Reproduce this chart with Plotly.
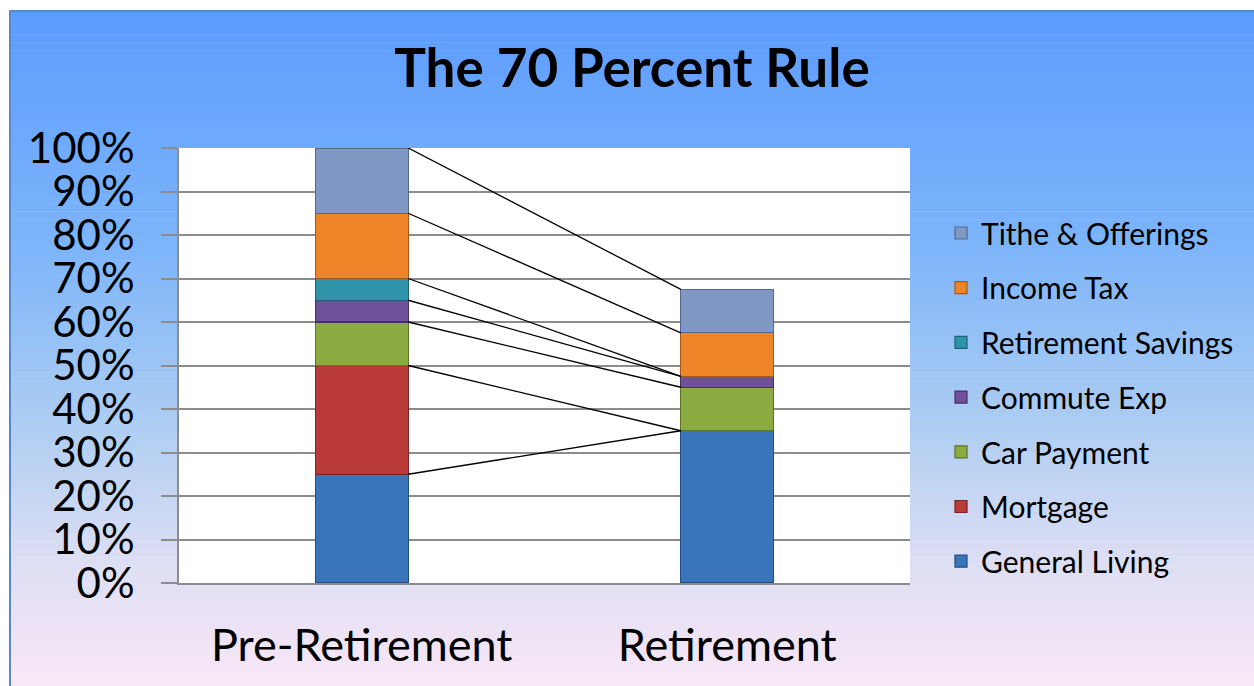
import plotly.graph_objects as go

categories = ["Pre-Retirement", "Retirement"]
series_names = ["General Living", "Mortgage", "Car Payment", "Commute Exp",
                "Retirement Savings", "Income Tax", "Tithe & Offerings"]
general_living = [25, 35]
mortgage = [25, 0]
car_payment = [10, 10]
commute_exp = [5, 2.5]
retirement_savings = [5, 0]
income_tax = [15, 10]
tithe_offerings = [15, 10]
y_ticks = [0, 10, 20, 30, 40, 50, 60, 70, 80, 90, 100]
y_tick_labels = ["0%", "10%", "20%", "30%", "40%", "50%", "60%", "70%", "80%", "90%", "100%"]

values = [general_living, mortgage, car_payment, commute_exp,
          retirement_savings, income_tax, tithe_offerings]
colors = ["#3a74ba", "#b93a36", "#8cab41", "#6f5199", "#2f93aa", "#ee8428", "#7f98c4"]
edges = ["#234d80", "#7c2220", "#5d7527", "#46306a", "#1c6374", "#a9581a", "#52688f"]

OFF = 0  # body margin removed via post_script
PW, PH = 1254, 686
W, H = PW - OFF, PH - OFF
L, R, T, B = 179 - OFF, 910 - OFF, 148 - OFF, 583 - OFF
BAR_W = 0.254

fig = go.Figure()
x_pos = list(range(len(categories)))
n_series = len(series_names)
for i, (name, vals) in enumerate(zip(series_names, values)):
    fig.add_trace(go.Bar(
        x=x_pos, y=vals, name=name, width=BAR_W,
        marker=dict(color=colors[i], line=dict(color=edges[i], width=1.2)),
        legendgroup=name, legendrank=n_series - i,
    ))

# series lines connecting segment tops
cum = [0, 0]
for vals in values:
    cum = [cum[0] + vals[0], cum[1] + vals[1]]
    fig.add_trace(go.Scatter(
        x=[x_pos[0] + BAR_W / 2, x_pos[1] - BAR_W / 2], y=cum,
        mode="lines", line=dict(color="black", width=1.3),
        showlegend=False, hoverinfo="skip"))

# helpers: reference page pixels -> paper coords
def px2fx(px):
    return (px - OFF - L) / (R - L)

def py2fy(py):
    return (B - (py - OFF)) / (B - T)

stops = [(10, (91, 156, 254)), (250, (126, 181, 250)), (420, (172, 204, 242)),
         (560, (220, 222, 243)), (686, (249, 231, 246))]

def col_at(y):
    for (y0, c0), (y1, c1) in zip(stops[:-1], stops[1:]):
        if y0 <= y <= y1:
            t = (y - y0) / (y1 - y0)
            return "rgb(%d,%d,%d)" % tuple(round(a + (b - a) * t) for a, b in zip(c0, c1))
    return "rgb(%d,%d,%d)" % stops[-1][1]

shapes = []
n = 84
y_top = 10
step = (PH - y_top) / n
for k in range(n):
    ya = y_top + k * step
    yb = ya + step + 0.6
    shapes.append(dict(type="rect", xref="paper", yref="paper",
                       x0=px2fx(9), x1=px2fx(PW + 5), y0=py2fy(yb), y1=py2fy(ya),
                       fillcolor=col_at(ya + step / 2), line=dict(width=0), layer="below"))
# border
shapes.append(dict(type="line", xref="paper", yref="paper", x0=px2fx(10), x1=px2fx(10),
                   y0=py2fy(PH + 5), y1=py2fy(11), line=dict(color="#5b87c6", width=2)))
shapes.append(dict(type="line", xref="paper", yref="paper", x0=px2fx(10), x1=px2fx(PW + 5),
                   y0=py2fy(11), y1=py2fy(11), line=dict(color="#5b87c6", width=2)))
# white plot area
shapes.append(dict(type="rect", xref="paper", yref="paper", x0=0, x1=1, y0=0, y1=1,
                   fillcolor="white", line=dict(width=0), layer="below"))

fig.update_layout(
    width=W, height=H,
    barmode="stack",
    paper_bgcolor="white",
    plot_bgcolor="rgba(0,0,0,0)",
    margin=dict(l=L, r=W - R, t=T, b=H - B, pad=0, autoexpand=False),
    font=dict(family="Lato, Carlito, Calibri, sans-serif", color="black"),
    title=dict(text="<b>The 70 Percent Rule</b>", x=(632 - OFF) / W, xanchor="center",
               y=1 - (68 - OFF) / H, yanchor="middle", font=dict(size=53, color="black")),
    shapes=shapes,
    showlegend=True,
    legend=dict(traceorder="grouped", tracegroupgap=12.7,
                x=px2fx(941), xanchor="left", y=py2fy(207), yanchor="top",
                bgcolor="rgba(0,0,0,0)", font=dict(size=30, color="black"),
                itemwidth=30),
    xaxis=dict(range=[-0.5, 1.5], tickvals=x_pos, ticktext=categories,
               showgrid=False, zeroline=False, showline=True, linecolor="#8c8c8c",
               linewidth=2, ticks="", tickfont=dict(size=45), ticklabelstandoff=22),
    yaxis=dict(range=[0, 100], tickvals=y_ticks, ticktext=y_tick_labels,
               showgrid=True, gridcolor="#8c8c8c", gridwidth=1.5,
               zeroline=False, showline=True, linecolor="#8c8c8c", linewidth=2,
               ticks="outside", ticklen=16, tickcolor="#8c8c8c", tickwidth=1.5,
               tickfont=dict(size=42), ticklabelstandoff=18),
)

fig.write_html("out.html", config={"displayModeBar": False},
               post_script="document.body.style.margin='0';document.body.style.overflow='hidden';")
